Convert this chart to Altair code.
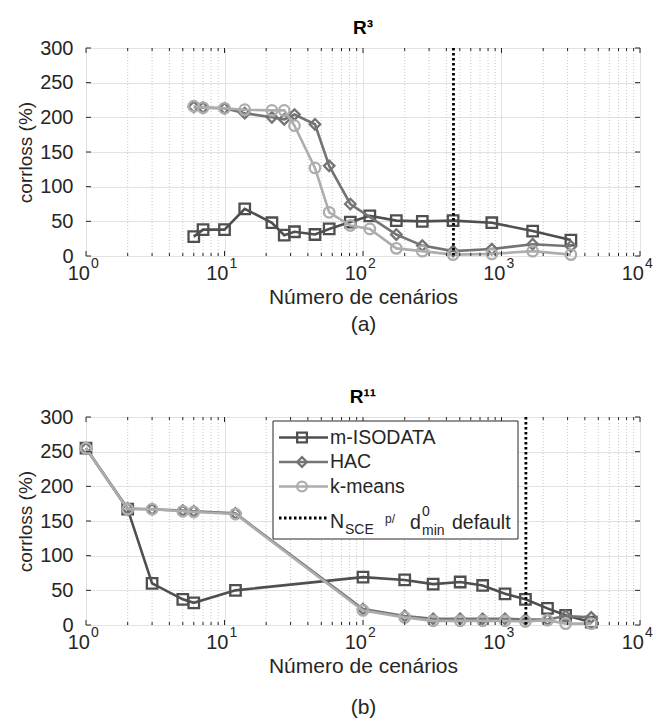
import altair as alt
import pandas as pd

FONT = "Liberation Sans"
TXT = "#262626"
SERIES = ["m-ISODATA", "HAC", "k-means"]
COLORS = ["#4f4f4f", "#747474", "#adadad"]
SHAPES = ["square", "diamond", "circle"]

# ---- Panel (a): R^3 ----
a_x_iso = [6, 7, 10, 14, 22, 27, 32, 45, 57, 81, 112, 174, 268, 447, 851, 1679, 3170]
a_y_iso = [28, 38, 38, 68, 48, 30, 35, 31, 39, 49, 58, 51, 50, 51, 48, 36, 23]
a_x_hac = [6, 7, 10, 14, 22, 27, 32, 45, 57, 81, 174, 268, 447, 851, 1679, 3170]
a_y_hac = [215, 214, 213, 206, 200, 197, 204, 190, 130, 75, 31, 15, 7, 10, 17, 14]
a_x_km = [6, 7, 10, 14, 22, 27, 32, 45, 57, 81, 112, 174, 268, 447, 851, 1679, 3170]
a_y_km = [216, 214, 213, 211, 210, 210, 188, 127, 63, 44, 39, 11, 7, 2, 3, 7, 2]
a_vline = 450

# ---- Panel (b): R^11 ----
b_x = [1, 2, 3, 5, 6, 12, 100, 200, 321, 503, 731, 1060, 1489, 2148, 2904, 4447]
b_y_iso = [255, 167, 60, 37, 32, 50, 69, 65, 59, 62, 57, 45, 37, 24, 14, 4]
b_y_hac = [255, 168, 167, 165, 164, 161, 23, 13, 9, 9, 9, 9, 8, 8, 13, 11]
b_y_km = [255, 167, 167, 164, 163, 160, 21, 11, 6, 6, 6, 6, 5, 7, 2, 2]
b_vline = 1500

X_MAJOR = [1, 10, 100, 1000, 10000]
X_EXP = ["0", "1", "2", "3", "4"]
X_MINOR = [m * 10 ** e for e in range(4) for m in range(2, 10)]
Y_TICKS = [0, 50, 100, 150, 200, 250, 300]

W, H = 554, 208


def panel(xs_list, ys_list, vline, title, xtitle, line_h, with_legend):
    xsc = alt.Scale(type="log", domain=[1, 10000], nice=False)
    ysc = alt.Scale(domain=[0, 300], nice=False)
    color = alt.Color("s:N", scale=alt.Scale(domain=SERIES, range=COLORS), legend=None)
    shape = alt.Shape("s:N", scale=alt.Scale(domain=SERIES, range=SHAPES), legend=None)

    xaxis = alt.Axis(values=X_MAJOR, labels=False, title=xtitle, grid=True,
                     gridColor="#e2e2e2", ticks=False, domain=False,
                     titleFontSize=21, titleFont=FONT, titleColor=TXT, titlePadding=30,
                     titleFontWeight="normal", titleLineHeight=line_h)
    yaxis = alt.Axis(values=Y_TICKS, title="corrloss (%)", grid=True, gridColor="#e2e2e2",
                     ticks=False, domain=False, labelFontSize=20, titleFontSize=19,
                     labelFont=FONT, titleFont=FONT, labelColor=TXT, titleColor=TXT,
                     labelPadding=13, titlePadding=4, titleFontWeight="normal")

    def X():
        return alt.X("n:Q", scale=xsc, axis=xaxis)

    def Y():
        return alt.Y("c:Q", scale=ysc, axis=yaxis)

    minor_df = pd.DataFrame({"n": X_MINOR})
    major_df = pd.DataFrame({"n": X_MAJOR, "e": X_EXP})
    ytick_df = pd.DataFrame({"c": Y_TICKS})

    layers = []
    layers.append(alt.Chart(minor_df).mark_rule(color="#c8c8c8", strokeDash=[1, 2], strokeWidth=1)
                  .encode(x=X()))

    for name, xs, ys in zip(SERIES, xs_list, ys_list):
        df = pd.DataFrame({"n": xs, "c": ys, "s": [name] * len(xs)})
        layers.append(alt.Chart(df).mark_line(strokeWidth=2.6).encode(x=X(), y=Y(), color=color))
        layers.append(alt.Chart(df).mark_point(filled=False, strokeWidth=2.3, size=110, opacity=1)
                      .encode(x=X(), y=Y(), color=color, shape=shape))

    layers.append(alt.Chart(pd.DataFrame({"n": [vline]}))
                  .mark_rule(color="black", strokeWidth=2.8, strokeDash=[2.5, 2.5])
                  .encode(x=X()))

    # inward ticks
    for dfk, ln in ((major_df, 5), (minor_df, 3)):
        layers.append(alt.Chart(dfk).mark_rule(color=TXT, strokeWidth=1)
                      .encode(x=X(), y=alt.value(H), y2=alt.value(H - ln)))
        layers.append(alt.Chart(dfk).mark_rule(color=TXT, strokeWidth=1)
                      .encode(x=X(), y=alt.value(0), y2=alt.value(ln)))
    layers.append(alt.Chart(ytick_df).mark_rule(color=TXT, strokeWidth=1)
                  .encode(y=Y(), x=alt.value(0), x2=alt.value(5)))
    layers.append(alt.Chart(ytick_df).mark_rule(color=TXT, strokeWidth=1)
                  .encode(y=Y(), x=alt.value(W - 5), x2=alt.value(W)))

    # x tick labels 10^k
    layers.append(alt.Chart(major_df).mark_text(text="10", font=FONT, fontSize=20, color=TXT,
                                                align="right", baseline="middle", dx=4)
                  .encode(x=X(), y=alt.value(H + 18)))
    layers.append(alt.Chart(major_df).mark_text(font=FONT, fontSize=14, color=TXT,
                                                align="left", baseline="middle", dx=5)
                  .encode(x=X(), y=alt.value(H + 8), text="e:N"))

    if with_legend:
        one = pd.DataFrame({"k": [0]})
        layers.append(alt.Chart(one).mark_rect(fill="white", stroke=TXT, strokeWidth=1)
                      .encode(x=alt.value(187), x2=alt.value(432), y=alt.value(4), y2=alt.value(122)))
        for i, (name, col, shp) in enumerate(zip(SERIES, COLORS, SHAPES)):
            yc = 20.5 + 24.5 * i
            layers.append(alt.Chart(one).mark_rule(color=col, strokeWidth=2.6)
                          .encode(x=alt.value(193), x2=alt.value(242), y=alt.value(yc)))
            layers.append(alt.Chart(one).mark_point(filled=False, strokeWidth=2.3, size=95,
                                                    opacity=1, color=col, shape=shp)
                          .encode(x=alt.value(216), y=alt.value(yc)))
            layers.append(alt.Chart(one).mark_text(text=name, font=FONT, fontSize=19.5, color=TXT,
                                                   align="left", baseline="middle")
                          .encode(x=alt.value(244), y=alt.value(yc)))
        layers.append(alt.Chart(one).mark_rule(color="black", strokeWidth=2.8, strokeDash=[2.5, 2.5])
                      .encode(x=alt.value(193), x2=alt.value(242), y=alt.value(101)))
        parts = [("N", 244, 105, 19.5), ("SCE", 259, 113, 14), ("p/", 299, 102, 12),
                 ("d", 324, 106, 19.5), ("0", 336, 95, 14), ("min", 336, 114, 14),
                 ("default", 366, 106, 19.5)]
        for t, px, py, fs in parts:
            layers.append(alt.Chart(one).mark_text(text=t, font=FONT, fontSize=fs, color=TXT,
                                                   align="left", baseline="middle")
                          .encode(x=alt.value(px), y=alt.value(py)))

    return alt.layer(*layers).properties(
        width=W, height=H,
        title=alt.TitleParams(title, fontSize=19, fontWeight="bold", font=FONT, color="black", offset=0))


top = panel([a_x_iso, a_x_hac, a_x_km], [a_y_iso, a_y_hac, a_y_km], a_vline, "R³",
            ["Número de cenários", "(a)"], 27, False)
bottom = panel([b_x, b_x, b_x], [b_y_iso, b_y_hac, b_y_km], b_vline, "R¹¹",
               ["Número de cenários", "(b)"], 41, True)

chart = (alt.vconcat(top, bottom, spacing=52)
         .properties(padding={"left": 8, "top": 10, "right": 0, "bottom": 0})
         .configure_view(stroke=TXT, strokeWidth=1)
         .configure(font=FONT))
chart.save("out.html", embed_options={"renderer": "svg", "actions": False})
